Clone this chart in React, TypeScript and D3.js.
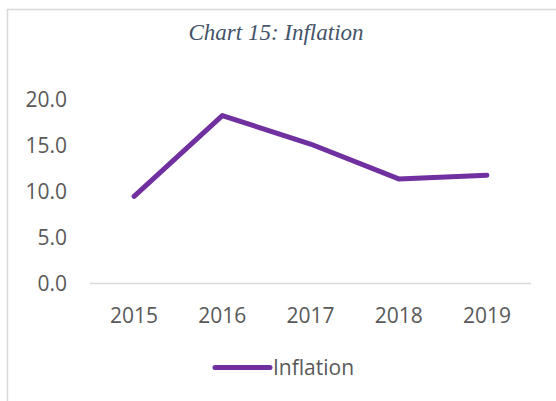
import React from "react";
import * as d3 from "d3";

const categories: string[] = ["2015", "2016", "2017", "2018", "2019"];
const inflation: number[] = [9.5, 18.3, 15.2, 11.4, 11.8];
const yTicks: number[] = [0, 5, 10, 15, 20];
const title = "Chart 15: Inflation";
const seriesName = "Inflation";

const W = 556;
const H = 401;
const LINE_COLOR = "#7030A0";
const TEXT_COLOR = "#595959";
const AXIS_FONT = "'Open Sans', 'Noto Sans', sans-serif";

export default function App() {
  const x = d3.scaleBand<string>().domain(categories).range([90, 531]);
  const y = d3.scaleLinear().domain([0, 20]).range([283.5, 100]);
  const fmt = d3.format(".1f");

  const line = d3
    .line<number>()
    .x((_, i) => (x(categories[i]) as number) + x.bandwidth() / 2)
    .y((d) => y(d));

  return (
    <svg
      width={W}
      height={H}
      style={{ position: "absolute", left: 0, top: 0, display: "block", background: "#fff" }}
    >
      <rect x={7.5} y={9.5} width={700} height={700} fill="#fff" stroke="#D9D9D9" strokeWidth={1.5} />
      <text
        x={276}
        y={40}
        textAnchor="middle"
        fontFamily="'Liberation Serif', 'DejaVu Serif', serif"
        fontStyle="italic"
        fontSize={23}
        fill="#44546A"
      >
        {title}
      </text>
      {yTicks.map((t) => (
        <text
          key={t}
          x={67}
          y={y(t)}
          dy="0.35em"
          textAnchor="end"
          fontFamily={AXIS_FONT}
          fontSize={21}
          fill={TEXT_COLOR}
        >
          {fmt(t)}
        </text>
      ))}
      <line x1={x.range()[0]} x2={x.range()[1]} y1={y(0)} y2={y(0)} stroke="#D9D9D9" strokeWidth={1.5} />
      {categories.map((c) => (
        <text
          key={c}
          x={(x(c) as number) + x.bandwidth() / 2}
          y={323}
          textAnchor="middle"
          fontFamily={AXIS_FONT}
          fontSize={21}
          fill={TEXT_COLOR}
        >
          {c}
        </text>
      ))}
      <path
        d={line(inflation) || ""}
        fill="none"
        stroke={LINE_COLOR}
        strokeWidth={5}
        strokeLinecap="round"
        strokeLinejoin="round"
      />
      <line x1={215} x2={270} y1={367.5} y2={367.5} stroke={LINE_COLOR} strokeWidth={5} strokeLinecap="round" />
      <text x={273} y={375} fontFamily={AXIS_FONT} fontSize={21} fill={TEXT_COLOR}>
        {seriesName}
      </text>
    </svg>
  );
}
